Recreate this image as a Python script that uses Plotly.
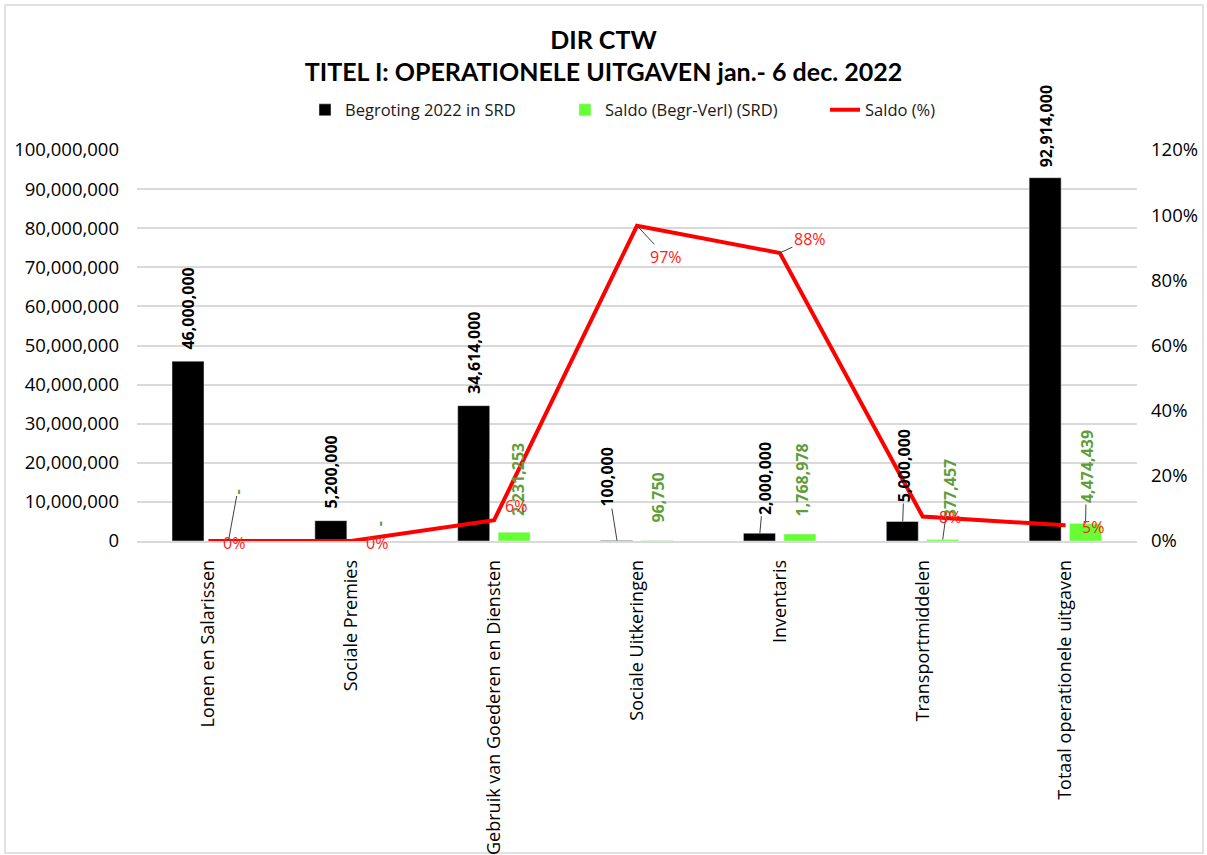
import plotly.graph_objects as go

categories = ["Lonen en Salarissen", "Sociale Premies", "Gebruik van Goederen en Diensten",
              "Sociale Uitkeringen", "Inventaris", "Transportmiddelen", "Totaal operationele uitgaven"]
begroting = [46000000, 5200000, 34614000, 100000, 2000000, 5000000, 92914000]
saldo_srd = [0, 0, 2231253, 96750, 1768978, 377457, 4474439]
saldo_pct = [0.0, 0.0, 0.064, 0.9675, 0.884, 0.075, 0.048]

FONT = "Open Sans"
GREEN_TXT = "#5E9E3A"

fig = go.Figure()
fig.add_trace(go.Bar(x=categories, y=begroting, name="Begroting 2022 in SRD",
                     marker_color="#000000", offset=-0.255, width=0.224))
fig.add_trace(go.Bar(x=categories, y=saldo_srd, name="Saldo (Begr-Verl) (SRD)",
                     marker_color="#66FF33", offset=0.028, width=0.224))
fig.add_trace(go.Scatter(x=categories, y=saldo_pct, name="Saldo (%)", yaxis="y2",
                         mode="lines", line=dict(color="#FF0000", width=4)))

def fmt(v):
    return "-" if v == 0 else f"{v:,.0f}"

ann = []
# Black bar labels: (xshift, yshift, arrow ax, arrow ay)
black_cfg = [(-20, 10, None, None), (-20, 10, None, None), (-20, 10, None, None),
             (-20, 0, -10, -63), (-20, 0, 5, -55), (-20, 0, 2, -56), (-20, 8, None, None)]
for c, v, (xs, ys, ax, ay) in zip(categories, begroting, black_cfg):
    d = dict(x=c, y=v, xref="x", yref="y", text=fmt(v), textangle=-90,
             font=dict(family=FONT, size=16, color="#000000", weight="bold"), xshift=xs)
    if ax is None:
        d.update(showarrow=False, yanchor="bottom", yshift=ys)
    else:
        d.update(showarrow=True, ax=ax, ay=ay, arrowhead=0, arrowwidth=1,
                 arrowcolor="#404040", standoff=0)
    ann.append(d)

green_cfg = [(20, 0, 9, -49, False), (28, 17, None, None, True), (24, 14, None, None, False),
             (21, 16, None, None, False), (22, 16, None, None, False),
             (20, 0, 7, -51, False), (20, 0, 1, -57, False)]
for c, v, (xs, ys, ax, ay, mid) in zip(categories, saldo_srd, green_cfg):
    d = dict(x=c, y=v, xref="x", yref="y", text=fmt(v), textangle=-90,
             font=dict(family=FONT, size=16, color=GREEN_TXT, weight="bold"), xshift=xs)
    if ax is None:
        d.update(showarrow=False, yanchor="middle" if mid else "bottom", yshift=ys)
    else:
        d.update(showarrow=True, ax=ax, ay=ay, arrowhead=0, arrowwidth=1,
                 arrowcolor="#404040", standoff=0)
    ann.append(d)

pct_cfg = [(26, -2, None, None), (26, -2, None, None), (22, 14, None, None),
           (None, None, 29, 31), (None, None, 30, -14), (27, 0, None, None), (27, -2, None, None)]
for c, v, (xs, ys, ax, ay) in zip(categories, saldo_pct, pct_cfg):
    d = dict(x=c, y=v, xref="x", yref="y2", text=f"{v:.0%}",
             font=dict(family=FONT, size=16, color="#FF2020"))
    if ax is None:
        d.update(showarrow=False, xshift=xs, yshift=ys, xanchor="center", yanchor="middle")
    else:
        d.update(showarrow=True, ax=ax, ay=ay, arrowhead=0, arrowwidth=1,
                 arrowcolor="#404040", standoff=0)
    ann.append(d)

fig.update_layout(
    width=1207, height=855,
    margin=dict(l=137, r=70, t=150, b=314, autoexpand=False),
    paper_bgcolor="white", plot_bgcolor="white",
    barmode="overlay",
    font=dict(family=FONT, size=18, color="#1a1a1a"),
    title=dict(text="DIR CTW<br>TITEL I: OPERATIONELE UITGAVEN jan.- 6 dec. 2022",
               x=0.5, xanchor="center", y=0.943, yanchor="middle",
               font=dict(family="Lato", size=25, color="#000000", weight="bold")),
    legend=dict(orientation="h", x=0.168, xanchor="left", y=1.102, yanchor="middle",
                font=dict(family=FONT, size=16.5, color="#1a1a1a"), entrywidth=215,
                bgcolor="rgba(0,0,0,0)"),
    xaxis=dict(tickangle=-90, showgrid=False, showline=True, linecolor="#D9D9D9",
               linewidth=1.5, ticks="", ticklabelstandoff=10, automargin=False,
               tickfont=dict(family=FONT, size=18, color="#000000")),
    yaxis=dict(range=[0, 100000000], dtick=10000000, tickformat=",.0f",
               showgrid=True, gridcolor="#D9D9D9", gridwidth=1.5, zeroline=False,
               showline=False, ticks="", ticklabelstandoff=17, automargin=False,
               tickfont=dict(family=FONT, size=18.5, color="#000000")),
    yaxis2=dict(range=[0, 1.2], dtick=0.2, tickformat=".0%", overlaying="y", side="right",
                showgrid=False, zeroline=False, showline=False, ticks="", ticklabelstandoff=13,
                automargin=False,
                tickfont=dict(family=FONT, size=18.5, color="#000000")),
    annotations=ann,
    shapes=[dict(type="rect", xref="paper", yref="paper", x0=-0.132, x1=1.066,
                 y0=-0.798, y1=1.371, line=dict(color="#D9D9D9", width=1.5),
                 fillcolor="rgba(0,0,0,0)", layer="below")],
)

fig.write_html("out.html", config={"displayModeBar": False},
               post_script="document.body.style.margin='0';document.body.style.overflow='hidden';")
